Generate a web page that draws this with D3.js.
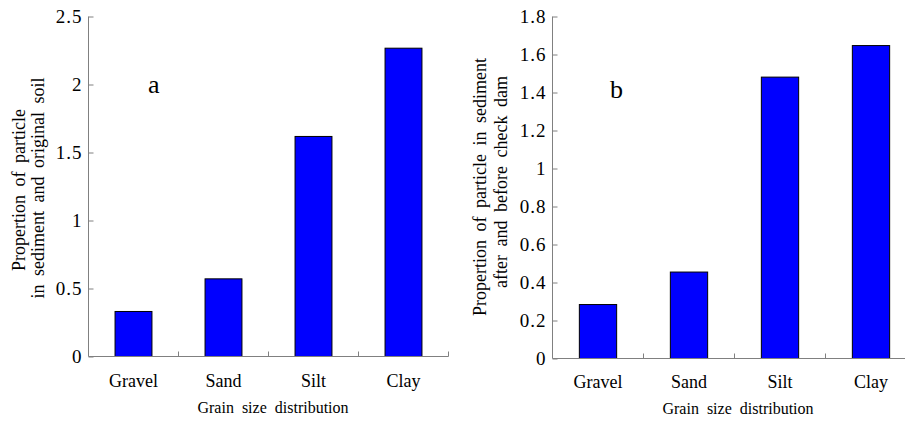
<!DOCTYPE html>
<html>
<head>
<meta charset="utf-8">
<script src="https://d3js.org/d3.v7.min.js"></script>
<style>
  body { margin: 0; background: #fff; }
</style>
</head>
<body>
<script>
const categories = ["Gravel", "Sand", "Silt", "Clay"];
const valuesA = [0.331, 0.571, 1.618, 2.267];
const valuesB = [0.284, 0.455, 1.481, 1.647];
const ticksA = [0, 0.5, 1, 1.5, 2, 2.5];
const ticksB = [0, 0.2, 0.4, 0.6, 0.8, 1, 1.2, 1.4, 1.6, 1.8];

const FONT = "'Liberation Serif', 'Times New Roman', 'DejaVu Serif', serif";
const W = 905, H = 422;
const svg = d3.select("body").append("svg").attr("width", W).attr("height", H)
  .attr("font-family", FONT);

function panel(opt) {
  const y = d3.scaleLinear().domain([0, opt.max]).range([opt.y0, opt.y1]);
  const x = d3.scaleBand().domain(categories)
    .range([opt.x0, opt.x0 + opt.step * categories.length])
    .paddingInner(0.59).paddingOuter(0.295);

  const g = svg.append("g");

  // bars
  g.selectAll("rect").data(opt.values).enter().append("rect")
    .attr("x", (d, i) => x(categories[i]))
    .attr("y", d => y(d))
    .attr("width", x.bandwidth())
    .attr("height", d => y(0) - y(d))
    .attr("fill", "#0000ff")
    .attr("stroke", "#000")
    .attr("stroke-width", 1);

  // y axis, ticks pointing inside
  const ya = g.append("g")
    .attr("transform", `translate(${opt.x0},0)`)
    .call(d3.axisLeft(y).tickValues(opt.ticks).tickSizeInner(-5).tickSizeOuter(0)
      .tickPadding(6).tickFormat(d3.format("")));
  ya.attr("font-family", FONT).attr("font-size", 19);
  ya.selectAll("text").attr("letter-spacing", "1px").attr("fill", "#000");
  ya.selectAll("line").attr("stroke", "#808080");
  ya.select(".domain").remove();
  g.append("line")
    .attr("x1", opt.x0).attr("x2", opt.x0).attr("y1", opt.y1).attr("y2", opt.y0)
    .attr("stroke", "#808080");

  // x axis
  const xEnd = opt.x0 + opt.step * categories.length;
  g.append("line")
    .attr("x1", opt.x0).attr("x2", xEnd).attr("y1", y(0)).attr("y2", y(0))
    .attr("stroke", "#808080");
  g.selectAll(".xtick").data(categories).enter().append("line")
    .attr("class", "xtick")
    .attr("x1", d => x(d) + x.bandwidth() + (x.step() - x.bandwidth()) / 2)
    .attr("x2", d => x(d) + x.bandwidth() + (x.step() - x.bandwidth()) / 2)
    .attr("y1", y(0)).attr("y2", y(0) - 5)
    .attr("stroke", "#808080");
  g.selectAll(".xlab").data(categories).enter().append("text")
    .attr("x", d => x(d) + x.bandwidth() / 2)
    .attr("y", opt.labY)
    .attr("text-anchor", "middle")
    .attr("font-size", 18)
    .text(d => d);

  g.append("text")
    .attr("x", opt.titleX).attr("y", opt.labY + 26)
    .attr("text-anchor", "middle")
    .attr("word-spacing", "4px")
    .attr("font-size", 16)
    .text("Grain size distribution");

  // y title, two lines
  opt.yTitle.forEach((t, i) => {
    g.append("text")
      .attr("transform", `translate(${opt.yTitleX[i]},${opt.yTitleY[i]}) rotate(-90)`)
      .attr("text-anchor", "middle")
      .attr("word-spacing", "4px")
      .attr("font-size", 18)
      .text(t);
  });

  g.append("text")
    .attr("x", opt.tag[0]).attr("y", opt.tag[1])
    .attr("font-size", 26)
    .text(opt.tagText);
}

panel({
  values: valuesA, ticks: ticksA, max: 2.5,
  x0: 88.5, step: 90, y0: 356.5, y1: 16.5,
  labY: 387, titleX: 273,
  yTitle: ["Propertion of particle", "in sediment and original soil"],
  yTitleX: [25, 44], yTitleY: [190, 188],
  tag: [148, 93], tagText: "a"
});

panel({
  values: valuesB, ticks: ticksB, max: 1.8,
  x0: 552.5, step: 91, y0: 358.5, y1: 16.5,
  labY: 388, titleX: 738,
  yTitle: ["Propertion of particle in sediment", "after and before check dam"],
  yTitleX: [486, 507], yTitleY: [187, 182],
  tag: [610, 98], tagText: "b"
});
</script>
</body>
</html>
